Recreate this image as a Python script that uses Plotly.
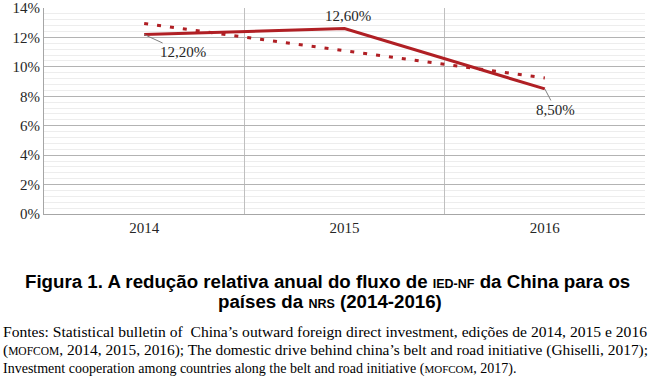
import plotly.graph_objects as go

years = ["2014", "2015", "2016"]
values = [12.2, 12.6, 8.5]
trend = [12.95, 11.1, 9.25]
value_labels = ["12,20%", "12,60%", "8,50%"]
y_ticks = [0, 2, 4, 6, 8, 10, 12, 14]
y_tick_labels = ["0%", "2%", "4%", "6%", "8%", "10%", "12%", "14%"]

RED = "#B01F24"
SERIF = "Liberation Serif"
SANS = "Liberation Sans"

L, R, T, B = 44, 9, 8, 166
W, H = 654, 380
PW, PH = W - L - R, H - T - B

def py(ypix):
    return (H - B - ypix) / PH

fig = go.Figure()
fig.add_trace(go.Scatter(x=years, y=trend, mode="lines",
                         line=dict(color=RED, width=3, dash="4px,9px"),
                         hoverinfo="skip", showlegend=False))
fig.add_trace(go.Scatter(x=years, y=values, mode="lines",
                         line=dict(color=RED, width=3),
                         showlegend=False))

lab_font = dict(family=SERIF, size=15, color="#262626")
fig.add_annotation(x=0, y=values[0], text=value_labels[0], showarrow=True,
                   ax=39, ay=18, arrowhead=0, arrowwidth=1, arrowcolor="#808080",
                   font=lab_font, standoff=0)
fig.add_annotation(x=1, y=values[1], text=value_labels[1], showarrow=False,
                   xshift=3, yshift=13, font=lab_font)
fig.add_annotation(x=2, y=values[2], text=value_labels[2], showarrow=True,
                   ax=11, ay=21, arrowhead=0, arrowwidth=1, arrowcolor="#808080",
                   font=lab_font, standoff=0)

sc = lambda s, n=12.5: f"<span style='font-size:{n}px'>{s}</span>"
title_font = dict(family=SANS, size=18.7, color="#000000")
fig.add_annotation(xref="paper", yref="paper", x=(327 - L) / PW, y=py(281),
                   text="<b>Figura 1. A redução relativa anual do fluxo de " + sc("IED-NF") +
                        " da China para os</b>",
                   showarrow=False, font=title_font, xanchor="center", yanchor="middle")
fig.add_annotation(xref="paper", yref="paper", x=(330 - L) / PW, y=py(301),
                   text="<b>países da " + sc("NRS") + " (2014-2016)</b>",
                   showarrow=False, font=title_font, xanchor="center", yanchor="middle")

caps = [
    "Fontes: Statistical bulletin of  China’s outward foreign direct investment, edições de 2014, 2015 e 2016",
    "(" + sc("MOFCOM", 11.5) + ", 2014, 2015, 2016); The domestic drive behind china’s belt and road initiative (Ghiselli, 2017);",
    "Investment cooperation among countries along the belt and road initiative (" + sc("MOFCOM", 11) + ", 2017).",
]
cap_sizes = [15.6, 15.4, 14.0]
for txt, yp, fs in zip(caps, [331, 350, 369], cap_sizes):
    fig.add_annotation(xref="paper", yref="paper", x=(1 - L) / PW, y=py(yp),
                       text=txt, showarrow=False,
                       font=dict(family=SERIF, size=fs, color="#000000"),
                       xanchor="left", yanchor="middle")

fig.update_layout(
    width=W, height=H, margin=dict(l=L, r=R, t=T, b=B, autoexpand=False),
    paper_bgcolor="white", plot_bgcolor="white",
    showlegend=False,
)
fig.update_xaxes(type="category", tickson="boundaries", showgrid=True,
                 gridcolor="#BFBFBF", gridwidth=1, ticks="", showline=True,
                 linecolor="#A6A6A6", linewidth=1, mirror=False, automargin=False,
                 tickfont=dict(family=SERIF, size=15, color="#262626"),
                 range=[-0.5, 2.5], zeroline=False)
fig.update_yaxes(range=[0, 14], tickvals=y_ticks, ticktext=y_tick_labels,
                 showgrid=True, gridcolor="#B3B3B3", gridwidth=1, automargin=False,
                 minor=dict(dtick=0.4, showgrid=True, gridcolor="#EDEDED", gridwidth=1),
                 showline=True, linecolor="#A6A6A6", linewidth=1, ticks="",
                 tickfont=dict(family=SERIF, size=15, color="#262626"),
                 zeroline=False)

fig.write_html("out.html", config={"displayModeBar": False},
               post_script="document.body.style.margin='0';")
